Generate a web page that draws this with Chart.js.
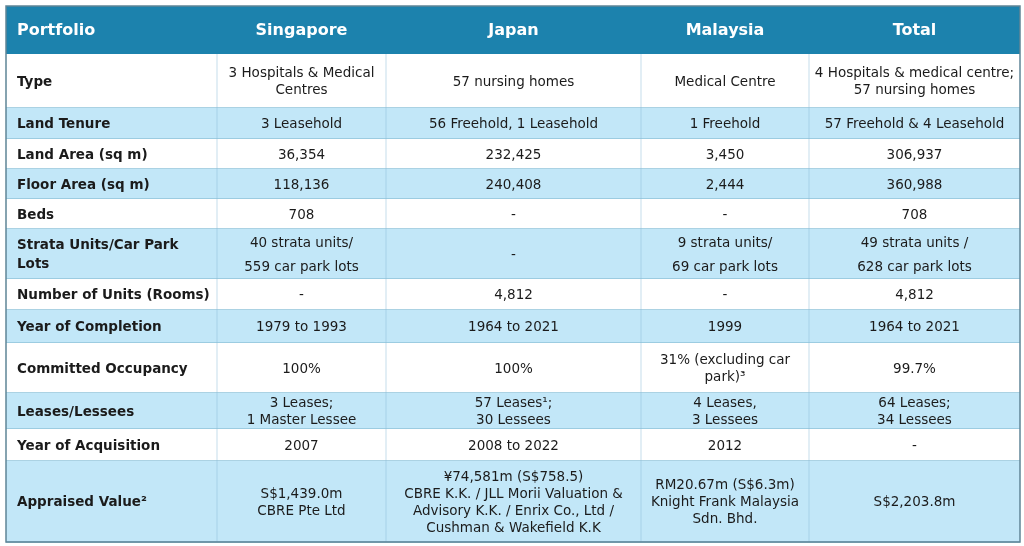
<!DOCTYPE html>
<html>
<head>
<meta charset="utf-8">
<script src="https://cdn.jsdelivr.net/npm/chart.js@4"></script>
<style>
  html, body { margin: 0; padding: 0; background: #fff; }
  #wrap { width: 1024px; height: 546px; }
</style>
</head>
<body>
<div id="wrap"><canvas id="table"></canvas></div>
<script>
const headers = ['Portfolio', 'Singapore', 'Japan', 'Malaysia', 'Total']

const rowLabels = [
    'Type', 'Land Tenure', 'Land Area (sq m)', 'Floor Area (sq m)', 'Beds',
    'Strata Units/Car Park\nLots', 'Number of Units (Rooms)', 'Year of Completion',
    'Committed Occupancy', 'Leases/Lessees', 'Year of Acquisition', 'Appraised Value\u00b2'
]

const singapore = [
    '3 Hospitals & Medical\nCentres', '3 Leasehold', '36,354', '118,136', '708',
    '40 strata units/\n559 car park lots', '-', '1979 to 1993', '100%',
    '3 Leases;\n1 Master Lessee', '2007', 'S$1,439.0m\nCBRE Pte Ltd'
]

const japan = [
    '57 nursing homes', '56 Freehold, 1 Leasehold', '232,425', '240,408', '-',
    '-', '4,812', '1964 to 2021', '100%',
    '57 Leases\u00b9;\n30 Lessees', '2008 to 2022',
    '\u00a574,581m (S$758.5)\nCBRE K.K. / JLL Morii Valuation &\nAdvisory K.K. / Enrix Co., Ltd /\nCushman & Wakefield K.K'
]

const malaysia = [
    'Medical Centre', '1 Freehold', '3,450', '2,444', '-',
    '9 strata units/\n69 car park lots', '-', '1999', '31% (excluding car\npark)\u00b3',
    '4 Leases,\n3 Lessees', '2012', 'RM20.67m (S$6.3m)\nKnight Frank Malaysia\nSdn. Bhd.'
]

const total = [
    '4 Hospitals & medical centre;\n57 nursing homes', '57 Freehold & 4 Leasehold', '306,937', '360,988', '708',
    '49 strata units /\n628 car park lots', '4,812', '1964 to 2021', '99.7%',
    '64 Leases;\n34 Lessees', '-', 'S$2,203.8m'
]

// layout (pixel units on the hidden linear scales)
const colEdges = [6, 217, 386, 641, 809, 1020]
const rowEdges = [6, 54, 108, 139, 169, 199, 229, 279, 310, 343, 393, 429, 461, 542]
const lineHeights = [13, 0, 0, 0, 0, 11, 0, 0, 11, 9, 0, 15]

const tablePlugin = {
    id: 'tablePlugin',
    afterDraw(chart) {
        const ctx = chart.ctx
        const xs = chart.scales.x
        const ys = chart.scales.y
        const px = v => xs.getPixelForValue(v)
        const py = v => ys.getPixelForValue(v)
        const columns = [rowLabels, singapore, japan, malaysia, total]

        ctx.save()
        // header
        ctx.fillStyle = '#1c82ad'
        ctx.fillRect(px(colEdges[0]), py(rowEdges[0]), px(colEdges[5]) - px(colEdges[0]), py(rowEdges[1]) - py(rowEdges[0]))
        ctx.font = 'bold 16px "DejaVu Sans"'
        ctx.fillStyle = '#ffffff'
        ctx.textBaseline = 'middle'
        headers.forEach((h, c) => {
            const y = (py(rowEdges[0]) + py(rowEdges[1])) / 2 + 1
            if (c === 0) {
                ctx.textAlign = 'left'
                ctx.fillText(h, px(colEdges[0]) + 11, y)
            } else {
                ctx.textAlign = 'center'
                ctx.fillText(h, (px(colEdges[c]) + px(colEdges[c + 1])) / 2, y)
            }
        })

        // body rows
        rowLabels.forEach((label, r) => {
            const top = py(rowEdges[r + 1])
            const bottom = py(rowEdges[r + 2])
            ctx.fillStyle = r % 2 === 1 || r === 11 ? '#c2e7f8' : '#ffffff'
            if (r === 11) ctx.fillStyle = '#c2e7f8'
            ctx.fillRect(px(colEdges[0]), top, px(colEdges[5]) - px(colEdges[0]), bottom - top)

            const mid = (top + bottom) / 2
            columns.forEach((col, c) => {
                const lines = col[r].split('\n')
                const lh = c === 0 ? 18 : (lineHeights[r] || 17)
                const step = lines.length > 1 ? (c === 0 ? 19 : (r === 5 ? 24 : 17)) : 0
                const start = mid - step * (lines.length - 1) / 2
                ctx.fillStyle = '#1b1b1b'
                if (c === 0) {
                    ctx.font = 'bold 13.5px "DejaVu Sans"'
                    ctx.textAlign = 'left'
                } else {
                    ctx.font = '13.5px "DejaVu Sans"'
                    ctx.textAlign = 'center'
                }
                lines.forEach((ln, i) => {
                    const x = c === 0 ? px(colEdges[0]) + 11 : (px(colEdges[c]) + px(colEdges[c + 1])) / 2
                    ctx.fillText(ln, x, start + i * step + 1)
                })
            })

            ctx.strokeStyle = '#8fc3da'
            ctx.lineWidth = 1.5
            ctx.beginPath()
            ctx.moveTo(px(colEdges[0]), bottom)
            ctx.lineTo(px(colEdges[5]), bottom)
            ctx.stroke()
        })

        // faint column separators
        ctx.strokeStyle = 'rgba(140,190,215,0.5)'
        ctx.lineWidth = 1
        for (let c = 1; c < 5; c++) {
            ctx.beginPath()
            ctx.moveTo(px(colEdges[c]), py(rowEdges[1]))
            ctx.lineTo(px(colEdges[c]), py(rowEdges[13]))
            ctx.stroke()
        }

        // outer border
        ctx.strokeStyle = '#5f8597'
        ctx.lineWidth = 1.5
        ctx.strokeRect(px(colEdges[0]), py(rowEdges[0]), px(colEdges[5]) - px(colEdges[0]), py(rowEdges[13]) - py(rowEdges[0]))
        ctx.restore()
    }
}

new Chart(document.getElementById('table').getContext('2d'), {
    type: 'scatter',
    data: { datasets: [{ data: [] }] },
    options: {
        responsive: true,
        maintainAspectRatio: false,
        animation: false,
        layout: { padding: 0 },
        plugins: { legend: { display: false }, tooltip: { enabled: false } },
        scales: {
            x: { type: 'linear', min: 0, max: 1024, display: false },
            y: { type: 'linear', min: 0, max: 546, reverse: true, display: false }
        }
    },
    plugins: [tablePlugin]
})
</script>
</body>
</html>
